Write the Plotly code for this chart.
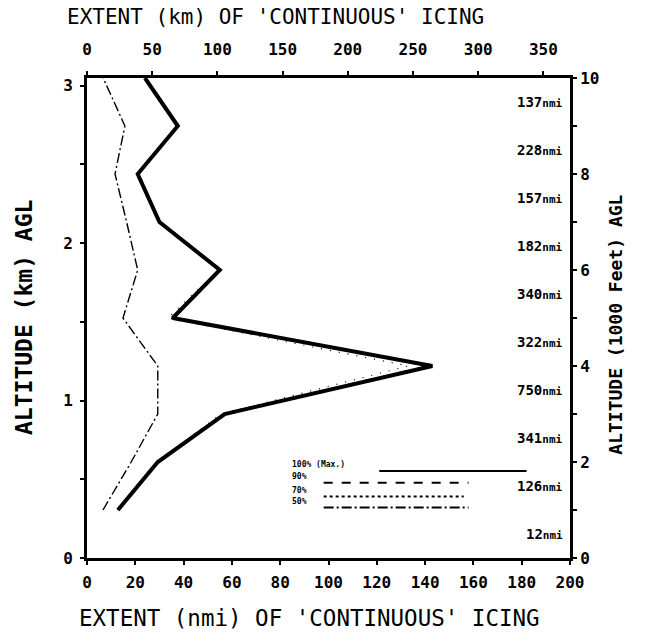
import plotly.graph_objects as go

# ---- data ----
alt_kft = [1, 2, 3, 4, 5, 6, 7, 8, 9, 10]
ext_100 = [12.8, 29.3, 57, 143, 35.5, 55, 30, 21, 37.6, 24]
ext_90 = [12.8, 29.2, 56.5, 141, 35.2, 54.8, 30, 21, 37.4, 24]
ext_70 = [12.8, 29, 55.5, 133, 33.5, 54.5, 29.8, 21, 37.2, 24]
ext_50 = [6.6, 18.3, 29.3, 29.3, 14.9, 21, 16.4, 11.6, 15.7, 6.7]

bin_mid_kft = [0.5, 1.5, 2.5, 3.5, 4.5, 5.5, 6.5, 7.5, 8.5, 9.5]
bin_nmi = ["12", "126", "341", "750", "322", "340", "182", "157", "228", "137"]

legend_names = ["100% (Max.)", "90%", "70%", "50%"]

MONO = "DejaVu Sans Mono"
KM_PER_NMI = 1.852
X_MAX_NMI = 200
Y_MAX_KFT = 10
KM_PER_KFT = 0.3048

fig = go.Figure()

styles = [
    dict(width=1.5, dash="dash"),
    dict(width=1.2, dash="1px,8px"),
    dict(width=1.4, dash="10px,3px,2px,3px"),
]
for vals, st in zip([ext_90, ext_70, ext_50], styles):
    fig.add_trace(go.Scatter(x=vals, y=alt_kft, mode="lines",
                             line=dict(color="black", **st), showlegend=False))
fig.add_trace(go.Scatter(x=ext_100, y=alt_kft, mode="lines",
                         line=dict(color="black", width=4), showlegend=False))

# invisible trace that activates the secondary (km) axes
fig.add_trace(go.Scatter(x=[0], y=[0], xaxis="x2", yaxis="y2", mode="markers",
                         marker=dict(opacity=0), showlegend=False, hoverinfo="skip"))

axis_common = dict(showgrid=False, zeroline=False, showline=True, linecolor="black",
                   linewidth=3, ticks="outside", ticklen=4, tickwidth=2, tickcolor="black",
                   tickfont=dict(family=MONO, size=16, color="black"))

fig.update_layout(
    width=651, height=640,
    margin=dict(l=87, r=81, t=78, b=82),
    paper_bgcolor="white", plot_bgcolor="white",
    showlegend=False,
    xaxis=dict(range=[0, X_MAX_NMI], tickvals=list(range(0, 201, 20)),
               ticktext=[f"<b>{v}</b>" for v in range(0, 201, 20)],
               ticklabelstandoff=4, **axis_common),
    xaxis2=dict(range=[0, X_MAX_NMI * KM_PER_NMI], overlaying="x", side="top", anchor="y2",
                tickvals=list(range(0, 351, 50)),
                ticktext=[f"<b>{v}</b>" for v in range(0, 351, 50)],
                ticklabelstandoff=10, **axis_common),
    yaxis=dict(range=[0, Y_MAX_KFT], side="right",
               tickvals=list(range(0, 11)),
               ticktext=[f"<b>{v}</b>" if v % 2 == 0 else "" for v in range(0, 11)],
               **axis_common),
    yaxis2=dict(range=[0, Y_MAX_KFT * KM_PER_KFT], overlaying="y", side="left", anchor="x2",
                tickvals=[0, 0.5, 1, 1.5, 2, 2.5, 3],
                ticktext=["<b>0</b>", "", "<b>1</b>", "", "<b>2</b>", "", "<b>3</b>"],
                ticklabelstandoff=4, **axis_common),
)

# axis titles
fig.add_annotation(text="EXTENT (km) OF 'CONTINUOUS' ICING", xref="paper", yref="paper",
                   x=0.39, y=1.0, yshift=75, showarrow=False,
                   font=dict(family=MONO, size=21, color="black"))
fig.add_annotation(text="EXTENT (nmi) OF 'CONTINUOUS' ICING", xref="paper", yref="paper",
                   x=0.46, y=0.0, yshift=-75, showarrow=False,
                   font=dict(family=MONO, size=22.5, color="black"))
fig.add_annotation(text="<b>ALTITUDE (km) AGL</b>", xref="paper", yref="paper",
                   x=0.0, xshift=-78, y=0.5, showarrow=False, textangle=-90,
                   font=dict(family=MONO, size=23, color="black"))
fig.add_annotation(text="<b>ALTITUDE (1000 Feet) AGL</b>", xref="paper", yref="paper",
                   x=1.0, xshift=58, y=0.485, showarrow=False, textangle=-90,
                   font=dict(family=MONO, size=18, color="black"))

# bin labels
for yv, t in zip(bin_mid_kft, bin_nmi):
    fig.add_annotation(text=f"<b>{t}</b><span style='font-size:11px'><b>nmi</b></span>",
                       xref="paper", yref="y", x=0.99, y=yv, xanchor="right",
                       showarrow=False, font=dict(family=MONO, size=14, color="black"))

# legend (text left, sample line right)
leg_y = [0.181, 0.157, 0.128, 0.105]
leg_x0 = [0.605, 0.49, 0.49, 0.49]
leg_x1 = [0.91, 0.79, 0.78, 0.79]
leg_dash = ["solid", "dash", "dot", "10px,3px,2px,3px"]
for name, yv, x0, x1, d in zip(legend_names, leg_y, leg_x0, leg_x1, leg_dash):
    fig.add_annotation(text=f"<b>{name}</b>", xref="paper", yref="paper",
                       x=0.42, y=yv, xanchor="left", showarrow=False,
                       font=dict(family=MONO, size=8, color="black"))
    fig.add_shape(type="line", xref="paper", yref="paper", x0=x0, x1=x1, y0=yv, y1=yv,
                  line=dict(color="black", width=2, dash=d))

fig.write_html("out.html")
